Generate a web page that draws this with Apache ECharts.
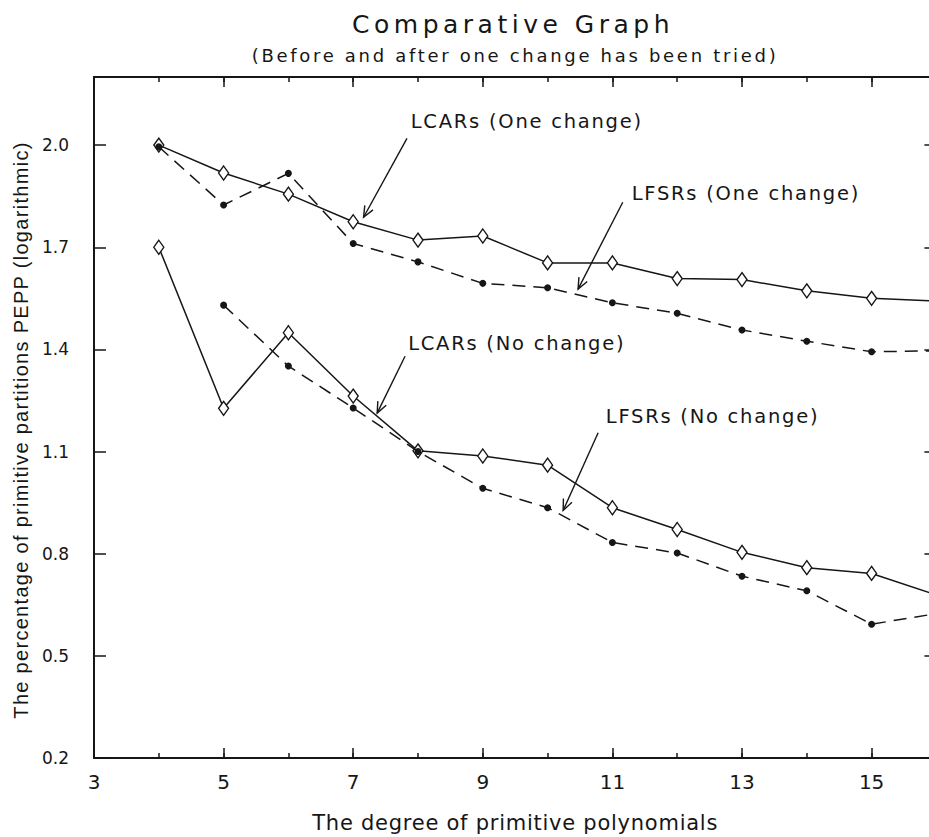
<!DOCTYPE html>
<html>
<head>
<meta charset="utf-8">
<script src="https://cdn.jsdelivr.net/npm/echarts@6/dist/echarts.min.js"></script>
<style>
  html, body { margin: 0; padding: 0; background: #fff; }
  #chart { width: 929px; height: 837px; }
  /* wide, plotter-style lettering */
  #chart text[style*="25px"] { letter-spacing: 4.5px; }
  #chart text[style*="18px"] { letter-spacing: 2.7px; }
  #chart text[style*="19.5px"] { letter-spacing: 1.75px; }
  #chart text[style*="21px"] { letter-spacing: 0.75px; }
  #chart text[style*="Liberation"] { letter-spacing: 1.3px; }
</style>
</head>
<body>
<div id="chart"></div>
<script>
// Degree of the primitive polynomial
const degrees = [4, 5, 6, 7, 8, 9, 10, 11, 12, 13, 14, 15, 16];

// PEPP values (logarithmic scale)
const lcarsOneChange = [2.000, 1.918, 1.856, 1.775, 1.721, 1.733, 1.654, 1.654, 1.608, 1.605, 1.572, 1.550, 1.542];
const lfsrsOneChange = [1.995, 1.824, 1.917, 1.711, 1.657, 1.594, 1.581, 1.537, 1.506, 1.457, 1.424, 1.393, 1.396];
const lcarsNoChange  = [1.700, 1.227, 1.449, 1.263, 1.102, 1.087, 1.060, 0.935, 0.871, 0.804, 0.759, 0.742, 0.679];
const lfsrsNoChange  = [null,  1.530, 1.351, 1.228, 1.100, 0.992, 0.935, 0.833, 0.802, 0.734, 0.691, 0.593, 0.624];

// Axis ranges and tick steps
const xMin = 3, xMax = 16, xStep = 2;
const yMin = 0.2, yMax = 2.2, yStep = 0.3;

// Callout texts, where they sit, and the arrows pointing at each curve
const noteTexts = ['LCARs (One change)', 'LFSRs (One change)', 'LCARs (No change)', 'LFSRs (No change)'];
const notePos   = [[7.88, 2.070], [11.29, 1.858], [7.84, 1.417], [10.89, 1.202]];
const arrowFrom = [[7.83, 2.020], [11.16, 1.832], [7.80, 1.380], [10.78, 1.155]];
const arrowTo   = [[7.16, 1.788], [10.47, 1.577], [7.37, 1.213], [10.24, 0.927]];

const titleText = 'Comparative Graph';
const subtitleText = '(Before and after one change has been tried)';
const xName = 'The degree of primitive polynomials';
const yName = 'The percentage of primitive partitions PEPP (logarithmic)';

const ink = '#161616';
const pairs = vals => degrees.map((d, i) => [d, vals[i]]);

const chart = echarts.init(document.getElementById('chart'), null, { renderer: 'svg' });

const tickFont = { fontFamily: 'DejaVu Sans', color: ink };

function xAxisDef(pos, step, len, withLabels, withLine) {
  return {
    type: 'value', position: pos, min: xMin, max: xMax, interval: step,
    axisLine: { show: withLine, onZero: false, lineStyle: { color: ink, width: 2 } },
    axisTick: { show: true, inside: true, length: len, lineStyle: { color: ink, width: 1.5 } },
    axisLabel: withLabels
      ? Object.assign({ show: true, margin: 14, fontSize: 20, showMaxLabel: false }, tickFont)
      : { show: false },
    splitLine: { show: false },
    name: withLabels ? xName : '',
    nameLocation: 'middle',
    nameGap: 54,
    nameTextStyle: { fontFamily: 'DejaVu Sans', fontSize: 21, color: ink }
  };
}

function yAxisDef(pos, withLabels) {
  return {
    type: 'value', position: pos, min: yMin, max: yMax, interval: yStep,
    axisLine: { show: true, onZero: false, lineStyle: { color: ink, width: 2 } },
    axisTick: { show: true, inside: true, length: 12, lineStyle: { color: ink, width: 1.5 } },
    axisLabel: withLabels
      ? Object.assign({ show: true, margin: 25, fontSize: 17, showMaxLabel: false,
          formatter: v => v.toFixed(1) }, tickFont)
      : { show: false },
    splitLine: { show: false }
  };
}

const solidCurve = (name, vals) => ({
  name, type: 'line', data: pairs(vals), xAxisIndex: 0, yAxisIndex: 0,
  symbol: 'diamond', symbolSize: [10, 14], showAllSymbol: true,
  itemStyle: { color: '#fff', borderColor: ink, borderWidth: 1.4 },
  lineStyle: { color: ink, width: 1.5, type: 'solid' },
  emphasis: { disabled: true }, z: 2
});

const dashedCurve = (name, vals) => ({
  name, type: 'line', data: pairs(vals), xAxisIndex: 0, yAxisIndex: 0,
  symbol: 'circle', symbolSize: 7, showAllSymbol: true,
  itemStyle: { color: ink, borderWidth: 0 },
  lineStyle: { color: ink, width: 1.5, type: [13, 8] },
  emphasis: { disabled: true }, z: 3
});

const textGraphics = [
  { id: 'title', type: 'text', x: 513, y: 24, silent: true,
    style: { text: titleText, fontFamily: 'DejaVu Sans', fontSize: 25, fill: ink, align: 'center', verticalAlign: 'middle' } },
  { id: 'subtitle', type: 'text', x: 515, y: 55, silent: true,
    style: { text: subtitleText, fontFamily: 'DejaVu Sans', fontSize: 18, fill: ink, align: 'center', verticalAlign: 'middle' } },
  { id: 'yname', type: 'text', x: 21, y: 430, rotation: Math.PI / 2, silent: true,
    style: { text: yName, fontFamily: 'Liberation Sans', fontSize: 20, fill: ink, align: 'center', verticalAlign: 'middle' } }
];

chart.setOption({
  animation: false,
  backgroundColor: '#fff',
  grid: { left: 94, right: -7.4, top: 77, bottom: 79, containLabel: false, outerBoundsMode: 'none' },
  xAxis: [
    xAxisDef('bottom', xStep, 10, true, true),
    xAxisDef('bottom', 1, 5, false, false),
    xAxisDef('top', xStep, 10, false, true),
    xAxisDef('top', 1, 5, false, false)
  ],
  yAxis: [yAxisDef('left', true), yAxisDef('right', false)],
  graphic: textGraphics,
  series: [
    solidCurve('LCARs (One change)', lcarsOneChange),
    solidCurve('LCARs (No change)', lcarsNoChange),
    dashedCurve('LFSRs (One change)', lfsrsOneChange),
    dashedCurve('LFSRs (No change)', lfsrsNoChange),
    {
      name: 'callouts', type: 'scatter', xAxisIndex: 0, yAxisIndex: 0, silent: true,
      data: noteTexts.map((t, i) => ({ name: t, value: notePos[i] })),
      symbolSize: 1, itemStyle: { color: 'rgba(0,0,0,0)', opacity: 1 },
      label: { show: true, position: 'right', distance: 0, formatter: '{b}',
        fontFamily: 'DejaVu Sans', fontSize: 19.5, color: ink, opacity: 1 },
      z: 5
    },
    {
      name: 'arrows', type: 'line', xAxisIndex: 0, yAxisIndex: 0, data: [], silent: true,
      markLine: {
        silent: true, animation: false,
        symbol: ['none', 'none'],
        label: { show: false },
        lineStyle: { type: 'solid', color: ink, width: 1.4, opacity: 1 },
        emphasis: { disabled: true },
        data: arrowFrom.map((f, i) => [{ coord: f }, { coord: arrowTo[i] }])
      },
      z: 5
    }
  ]
});

// Open "V" arrow heads at the end of each callout line, oriented from the axis scales
const headLen = 12, headSpread = 0.4;
const heads = arrowTo.map((tip, i) => {
  const p = chart.convertToPixel({ gridIndex: 0 }, tip);
  const q = chart.convertToPixel({ gridIndex: 0 }, arrowFrom[i]);
  const ang = Math.atan2(q[1] - p[1], q[0] - p[0]);
  return {
    id: 'head' + i, type: 'polyline', silent: true, z: 10,
    shape: { points: [
      [p[0] + headLen * Math.cos(ang + headSpread), p[1] + headLen * Math.sin(ang + headSpread)],
      [p[0], p[1]],
      [p[0] + headLen * Math.cos(ang - headSpread), p[1] + headLen * Math.sin(ang - headSpread)]
    ] },
    style: { stroke: ink, lineWidth: 1.4, fill: null }
  };
});
chart.setOption({ graphic: textGraphics.concat(heads) });
</script>
</body>
</html>
